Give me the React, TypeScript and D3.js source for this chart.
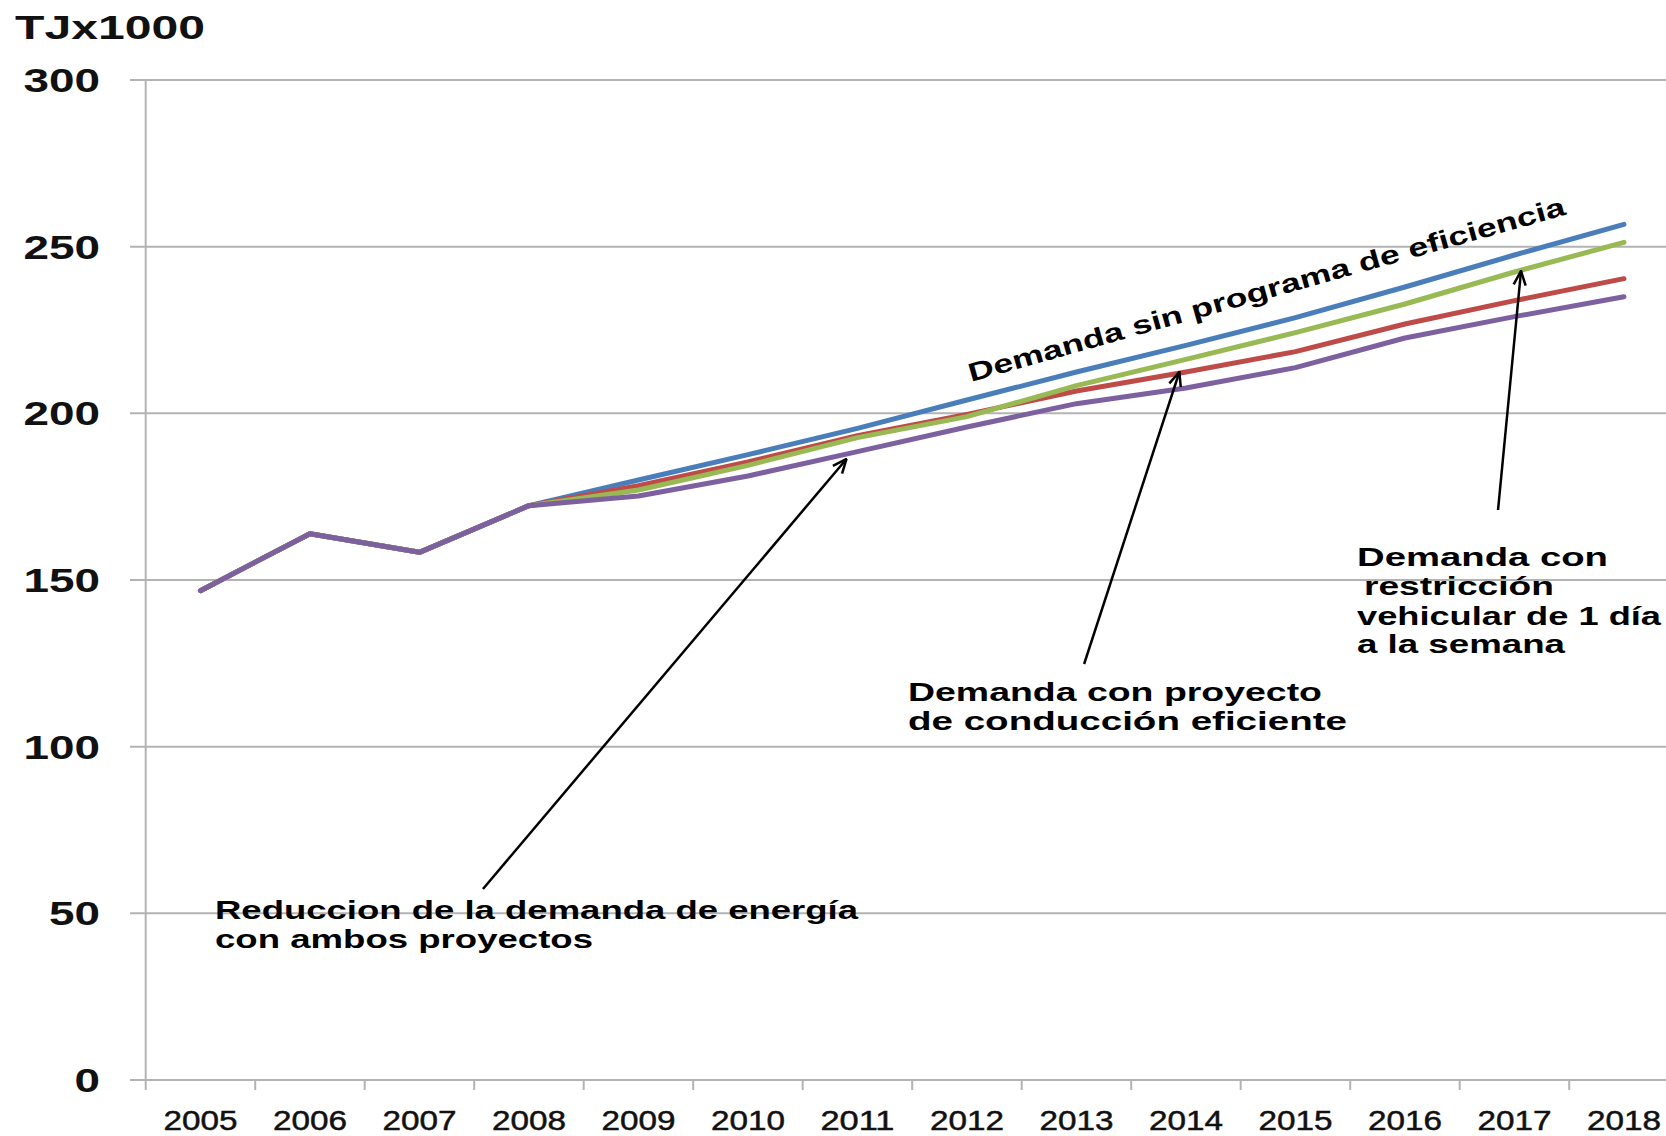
import React from "react";
import * as d3 from "d3";

const years = ["2005","2006","2007","2008","2009","2010","2011","2012","2013","2014","2015","2016","2017","2018"];
const sinPrograma = [146.8,163.9,158.3,172.3,180.0,187.6,195.5,204.0,212.4,220.4,228.7,237.9,247.5,256.7];
const conduccion = [146.8,163.9,158.3,172.3,178.3,185.4,193.3,199.7,206.7,212.4,218.5,226.8,233.8,240.4];
const restriccion = [146.8,163.9,158.3,172.3,177.0,184.4,192.7,199.0,208.3,216.2,224.2,232.8,242.4,251.3];
const ambos = [146.8,163.9,158.3,172.3,175.2,181.2,188.5,195.9,202.9,207.6,213.7,222.6,229.0,235.0];
const yTicks = [0,50,100,150,200,250,300];

const series = [
  { name: "Demanda sin programa de eficiencia", values: sinPrograma, color: "#4A7EBB" },
  { name: "Demanda con proyecto de conducción eficiente", values: conduccion, color: "#BE4B48" },
  { name: "Demanda con restricción vehicular", values: restriccion, color: "#98B954" },
  { name: "Reduccion con ambos proyectos", values: ambos, color: "#7D60A0" },
];

// annotation arrows in data space: [index, value] tail -> tip
const arrows = [
  { from: [2.58, 57.3], to: [5.9, 186.3] },
  { from: [8.07, 124.8], to: [8.94, 212.4] },
  { from: [11.85, 171], to: [12.06, 242.7] },
];

const W = 1666, H = 1136;
const left = 145.7, step = 109.5;

export default function App() {
  const x = d3.scaleBand<string>().domain(years).range([left, left + step * years.length]).padding(0);
  const y = d3.scaleLinear().domain([0, 300]).range([1080, 80]);
  const cx = (yr: string) => (x(yr) as number) + x.bandwidth() / 2;
  const xi = (i: number) => left + (i + 0.5) * step;
  const line = d3.line<number>().x((_, i) => cx(years[i])).y(v => y(v));
  const font = "'Liberation Sans', Arial, sans-serif";
  const gridColor = "#B3B3B3";

  const tickBounds = d3.range(years.length + 1).map(k => left + k * step).filter(v => v <= W);

  return (
    <div style={{ position: "absolute", left: 0, top: 0 }}>
      <svg width={W} height={H} style={{ display: "block", background: "#fff" }}>
        <defs>
          <marker id="arr" viewBox="0 0 16 16" refX="15" refY="8" markerWidth="16" markerHeight="16" markerUnits="userSpaceOnUse" orient="auto">
            <path d="M1,2 L15,8 L1,14" fill="none" stroke="#000" strokeWidth="2.5" />
          </marker>
        </defs>
        {/* gridlines */}
        {yTicks.map(t => (
          <line key={t} x1={130} x2={W} y1={y(t)} y2={y(t)} stroke={gridColor} strokeWidth={2} />
        ))}
        {/* y axis */}
        <line x1={left} x2={left} y1={y(300)} y2={y(0)} stroke={gridColor} strokeWidth={2} />
        {/* x ticks */}
        {tickBounds.map((b, k) => (
          <line key={k} x1={b} x2={b} y1={y(0)} y2={y(0) + 10} stroke={gridColor} strokeWidth={2} />
        ))}
        {/* y labels */}
        {yTicks.map(t => (
          <text key={t} x={100} y={y(t)} dy="0.36em" textAnchor="end" fontFamily={font} fontWeight="bold" fontSize={33}
            textLength={String(t).length * 25.5} lengthAdjust="spacingAndGlyphs" fill="#111">{t}</text>
        ))}
        <text x={15} y={39} fontFamily={font} fontWeight="bold" fontSize={33} textLength={190} lengthAdjust="spacingAndGlyphs" fill="#111">TJx1000</text>
        {/* x labels */}
        {years.map(yr => (
          <text key={yr} x={cx(yr)} y={1130} textAnchor="middle" fontFamily={font} fontSize={28}
            textLength={74} lengthAdjust="spacingAndGlyphs" fill="#111" stroke="#111" strokeWidth={0.5}>{yr}</text>
        ))}
        {/* series */}
        {series.map(s => (
          <path key={s.name} d={line(s.values) || ""} fill="none" stroke={s.color} strokeWidth={5} strokeLinejoin="round" strokeLinecap="round" />
        ))}
        {/* arrows */}
        {arrows.map((a, i) => (
          <line key={i} x1={xi(a.from[0])} y1={y(a.from[1])} x2={xi(a.to[0])} y2={y(a.to[1])} stroke="#000" strokeWidth={2.5} markerEnd="url(#arr)" />
        ))}
        {/* annotations */}
        <g fontFamily={font} fontWeight="bold" fontSize={26} fill="#000">
          <text transform="translate(971,382) rotate(-15.7)" textLength={619} lengthAdjust="spacingAndGlyphs">Demanda sin programa de eficiencia</text>
          <text x={908} y={701} textLength={414} lengthAdjust="spacingAndGlyphs">Demanda  con proyecto</text>
          <text x={908} y={730} textLength={439} lengthAdjust="spacingAndGlyphs">de  conducción  eficiente</text>
          <text x={1357} y={566} textLength={251} lengthAdjust="spacingAndGlyphs">Demanda  con</text>
          <text x={1364} y={595} textLength={190} lengthAdjust="spacingAndGlyphs">restricción</text>
          <text x={1357} y={625} textLength={304} lengthAdjust="spacingAndGlyphs">vehicular de 1 día</text>
          <text x={1357} y={653} textLength={208} lengthAdjust="spacingAndGlyphs">a la semana</text>
          <text x={215} y={919} textLength={643} lengthAdjust="spacingAndGlyphs">Reduccion de la demanda de energía</text>
          <text x={215} y={948} textLength={378} lengthAdjust="spacingAndGlyphs">con ambos proyectos</text>
        </g>
      </svg>
    </div>
  );
}
